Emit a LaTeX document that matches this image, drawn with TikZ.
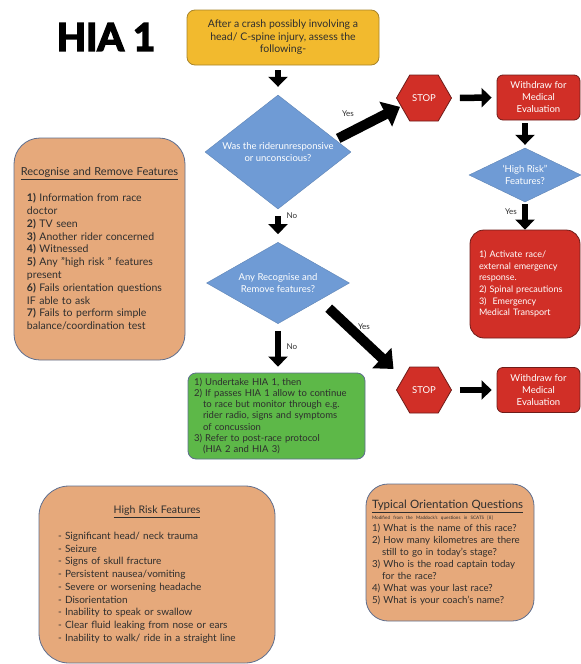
\documentclass[tikz,border=0pt]{standalone}
\usepackage{fontspec}
\setmainfont{Lato}
\usetikzlibrary{shapes.geometric,shapes.symbols,arrows.meta}
\definecolor{hiaYellow}{HTML}{F2BA2E}
\definecolor{hiaYellowDk}{HTML}{A8842A}
\definecolor{hiaBlue}{HTML}{6F9BD5}
\definecolor{hiaRed}{HTML}{D12F27}
\definecolor{hiaRedDk}{HTML}{6E1C19}
\definecolor{hiaGreen}{HTML}{5DB848}
\definecolor{hiaPeach}{HTML}{E6A97B}
\definecolor{hiaSlate}{HTML}{5E6E8E}
\definecolor{hiaText}{HTML}{2E2E2E}
\newcommand{\heavytext}[1]{\special{pdf:literal direct 2 Tr 1.6 w}#1\special{pdf:literal direct 0 Tr}}

\begin{document}
\begin{tikzpicture}[x=1pt,y=-1pt,
    ybox/.style={draw=hiaYellowDk, fill=hiaYellow, line width=0.8pt, rounded corners=8pt,
        minimum width=192pt, minimum height=55pt, align=center, text=hiaText,
        font=\fontsize{10.5}{12.5}\selectfont},
    dia/.style={diamond, fill=hiaBlue, draw=hiaBlue!85!black, line width=0.4pt, inner sep=-4pt,
        align=center, text=white, font=\fontsize{9.5}{11.5}\selectfont},
    stophex/.style={signal, signal to=east and west, signal pointer angle=120,
        minimum width=55pt, minimum height=46pt, inner sep=0pt, fill=hiaRed, draw=hiaRedDk,
        line width=0.8pt, text=white, font=\fontsize{9.5}{11}\selectfont},
    redbox/.style={rounded corners=6pt, fill=hiaRed, draw=hiaRedDk, line width=0.8pt,
        minimum width=83pt, minimum height=45pt, align=center, text=white,
        font=\fontsize{9.5}{12}\selectfont},
    greenbox/.style={rounded corners=8pt, fill=hiaGreen, draw=hiaSlate, line width=0.8pt,
        minimum width=177pt, minimum height=86pt, text width=165pt, align=left, text=hiaText,
        font=\fontsize{9.5}{11.2}\selectfont},
    peachbox/.style={rounded corners=26pt, fill=hiaPeach, draw=hiaSlate, line width=0.8pt,
        align=left, text=hiaText},
    fat/.style={line width=6.5pt, -{Triangle[width=19pt,length=10pt]}},
    fatter/.style={line width=10pt, -{Triangle[width=27pt,length=16pt]}},
    lbl/.style={font=\fontsize{8}{9}\selectfont, text=hiaText}
]
    \useasboundingbox (0,0) rectangle (581,664);

    % Title
    \node[font={\bfseries\fontsize{38}{40}\selectfont}] (title) at (106,37) {\heavytext{HIA 1}};

    % Main column
    \node[ybox] (crash) at (283,37.5) {After a crash possibly involving a\\ head/ C-spine injury, assess the\\ following-};
    \node[dia, minimum width=146pt, minimum height=82pt] (rider) at (278,152) {Was the riderunresponsive\\ or unconscious?};
    \node[dia, minimum width=143pt, minimum height=80pt] (recremove) at (278,283) {Any Recognise and\\ Remove features?};
    \node[greenbox] (undertake) at (276.5,416) {1) Undertake HIA 1, then\\
        2) If passes HIA 1 allow to continue\\
        \hspace*{9pt}to race but monitor through e.g.\\
        \hspace*{9pt}rider radio, signs and symptoms\\
        \hspace*{9pt}of concussion\\
        3) Refer to post-race protocol\\
        \hspace*{9pt}(HIA 2 and HIA 3)};

    % Right column
    \node[stophex] (stopA) at (424,98) {STOP};
    \node[redbox] (withdrawA) at (538.5,97.5) {Withdraw for\\ Medical\\ Evaluation};
    \node[dia, minimum width=112pt, minimum height=54pt] (highrisk) at (525,175) {‘High Risk”\\ Features?};
    \node[redbox, rounded corners=14pt, minimum width=110pt, minimum height=108pt, text width=92pt,
        align=left, font=\fontsize{9}{11.7}\selectfont] (activate) at (525,284) {1) Activate race/\\
        external emergency\\ response.\\ 2) Spinal precautions\\ 3)\ \ Emergency\\ Medical Transport};
    \node[stophex] (stopB) at (424,390) {STOP};
    \node[redbox] (withdrawB) at (538.5,390) {Withdraw for\\ Medical\\ Evaluation};

    % Feature boxes
    \node[peachbox, minimum width=171pt, minimum height=222pt, text width=145pt,
        font=\fontsize{10.5}{12.8}\selectfont] (recognise) at (99.5,249) {%
        \makebox[\linewidth][c]{\fontsize{11}{13}\selectfont\underline{Recognise and Remove Features}}\\[13pt]
        \textbf{1)} Information from race\\ doctor\\
        \textbf{2)} TV seen\\
        \textbf{3)} Another rider concerned\\
        \textbf{4)} Witnessed\\
        \textbf{5)} Any "high risk " features\\ present\\
        \textbf{6)} Fails orientation questions\\ IF able to ask\\
        \textbf{7)} Fails to perform simple\\ balance/coordination test};
    \node[peachbox, rounded corners=30pt, minimum width=236pt, minimum height=177pt, text width=198pt,
        font=\fontsize{10}{12.7}\selectfont] (highfeat) at (157,574.5) {%
        \makebox[\linewidth][c]{\fontsize{10.5}{13}\selectfont\underline{High Risk Features}}\\[13pt]
        - Significant head/ neck trauma\\
        - Seizure\\
        - Signs of skull fracture\\
        - Persistent nausea/vomiting\\
        - Severe or worsening headache\\
        - Disorientation\\
        - Inability to speak or swallow\\
        - Clear fluid leaking from nose or ears\\
        - Inability to walk/ ride in a straight line};
    \node[peachbox, rounded corners=22pt, minimum width=168pt, minimum height=137pt, text width=156pt,
        font=\fontsize{9.7}{12}\selectfont] (orient) at (450,552.5) {%
        {\fontsize{11.5}{12}\selectfont\underline{Typical Orientation Questions}}\\[-1pt]
        {\fontsize{4.6}{6}\selectfont Modified from the Maddock’s questions in SCATS [8]}\\
        1) What is the name of this race?\\
        2) How many kilometres are there\\
        \hspace*{10pt}still to go in today’s stage?\\
        3) Who is the road captain today\\
        \hspace*{10pt}for the race?\\
        4) What was your last race?\\
        5) What is your coach’s name?};

    % Arrows
    \draw[fat, shorten <=5pt, shorten >=8pt] (crash.south -| rider.north) -- (rider.north);
    \draw[fat, shorten <=7pt, shorten >=8pt] (rider.south) -- (recremove.north);
    \draw[fat, shorten <=7pt, shorten >=6pt] (recremove.south) -- (undertake.north -| recremove.south);
    \draw[fatter, shorten <=3pt, shorten >=1pt] (rider.12) -- (stopA.200);
    \draw[fatter, shorten <=12pt, shorten >=13pt] (recremove.-22) -- (stopB.150);
    \draw[fat, shorten <=8pt, shorten >=5pt] (stopA.east) -- (withdrawA.west);
    \draw[fat, shorten <=3pt, shorten >=3pt] (withdrawA.south -| highrisk.north) -- (highrisk.north);
    \draw[fat, shorten <=2pt] (highrisk.south) -- (activate.north -| highrisk.south);
    \draw[fat, shorten <=8pt, shorten >=5pt] (stopB.east) -- (withdrawB.west);

    % Labels
    \node[lbl] (yesA) at (348,114) {Yes};
    \node[lbl] (noA) at (292,216) {No};
    \node[lbl] (yesB) at (511,212) {Yes};
    \node[lbl] (noB) at (292,347) {No};
    \node[lbl] (yesC) at (364,327) {Yes};
\end{tikzpicture}
\end{document}
